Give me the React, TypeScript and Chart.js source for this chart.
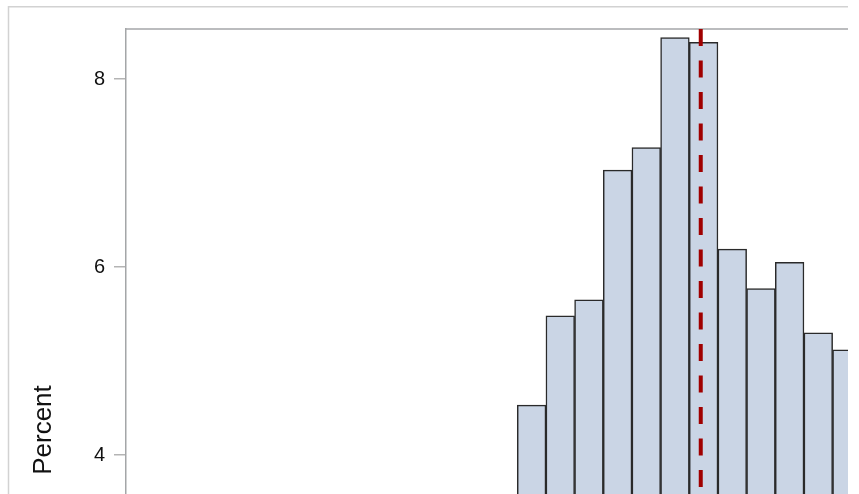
import React, { useEffect, useRef } from 'react';
import { Chart, registerables } from 'chart.js';

Chart.register(...registerables);

// ---- data ----
const binMidpoints = [14, 15, 16, 17, 18, 19, 20, 21, 22, 23, 24, 25];
const percentValues = [4.53, 5.48, 5.65, 7.03, 7.27, 8.44, 8.39, 6.19, 5.77, 6.05, 5.3, 5.12];
const meanValue = 19.9;
const yTickStep = 2;
const yAxisTitle = 'Percent';

// ---- axis ranges ----
const X_MIN = -0.148;
const X_MAX = 26.85;
const Y_MIN = 0;
const Y_MAX = 8.532;

const CANVAS_W = 900;
const CANVAS_H = 852;

const framePlugin = {
  id: 'sasFrame',
  beforeDraw(chart: any) {
    const ctx = chart.ctx;
    ctx.save();
    ctx.strokeStyle = '#D2D2D2';
    ctx.lineWidth = 1.5;
    ctx.beginPath();
    ctx.moveTo(8.5, chart.height);
    ctx.lineTo(8.5, 6.7);
    ctx.lineTo(chart.width, 6.7);
    ctx.stroke();
    ctx.restore();
  },
  beforeDatasetsDraw(chart: any) {
    const { ctx, chartArea } = chart;
    ctx.save();
    ctx.strokeStyle = '#A4A6A8';
    ctx.lineWidth = 1.5;
    ctx.beginPath();
    ctx.moveTo(chartArea.left, chartArea.top);
    ctx.lineTo(chartArea.right, chartArea.top);
    ctx.stroke();
    ctx.restore();
  },
};

export default function App() {
  const canvasRef = useRef<HTMLCanvasElement | null>(null);

  useEffect(() => {
    if (!canvasRef.current) return;
    const chart = new Chart(canvasRef.current, {
      type: 'bar',
      data: {
        datasets: [
          {
            type: 'line',
            label: 'Mean',
            data: [
              { x: meanValue, y: Y_MAX },
              { x: meanValue, y: Y_MIN },
            ],
            borderColor: '#A00000',
            borderWidth: 4,
            borderDash: [17, 14.5],
            borderCapStyle: 'butt',
            pointRadius: 0,
            fill: false,
            tension: 0,
            order: 0,
          } as any,
          {
            type: 'bar',
            label: 'Percent',
            data: binMidpoints.map((x, i) => ({ x, y: percentValues[i] })),
            backgroundColor: '#CAD5E5',
            borderColor: '#2A2A2A',
            borderWidth: 1.5,
            barPercentage: 1,
            categoryPercentage: 1,
            order: 1,
          } as any,
        ],
      },
      options: {
        responsive: false,
        maintainAspectRatio: false,
        animation: false,
        layout: { padding: { top: 29, left: 0, right: 0, bottom: 0 } },
        plugins: {
          legend: { display: false },
          tooltip: { enabled: false },
        },
        scales: {
          x: {
            type: 'linear',
            display: false,
            min: X_MIN,
            max: X_MAX,
            offset: false,
            ticks: { stepSize: 1, includeBounds: false },
          },
          y: {
            type: 'linear',
            min: Y_MIN,
            max: Y_MAX,
            afterFit: (scale: any) => {
              scale.width = 126;
            },
            border: { display: true, color: '#A4A6A8', width: 1.5 },
            grid: {
              display: true,
              drawOnChartArea: false,
              drawTicks: true,
              tickLength: 12,
              color: '#B4B4B4',
              lineWidth: 1.5,
            },
            ticks: {
              stepSize: yTickStep,
              includeBounds: false,
              padding: 9,
              color: '#111111',
              font: { family: "'Liberation Sans', Arial, sans-serif", size: 20 },
            },
            title: {
              display: true,
              text: yAxisTitle,
              color: '#111111',
              font: { family: "'Liberation Sans', Arial, sans-serif", size: 26 },
              padding: { top: 28, bottom: 0 },
            },
          },
        },
      } as any,
      plugins: [framePlugin],
    });
    return () => chart.destroy();
  }, []);

  return (
    <div
      style={{
        position: 'absolute',
        left: 0,
        top: 0,
        width: 848,
        height: 494,
        overflow: 'hidden',
        background: '#ffffff',
      }}
    >
      <canvas ref={canvasRef} width={CANVAS_W} height={CANVAS_H} style={{ display: 'block' }} />
    </div>
  );
}
